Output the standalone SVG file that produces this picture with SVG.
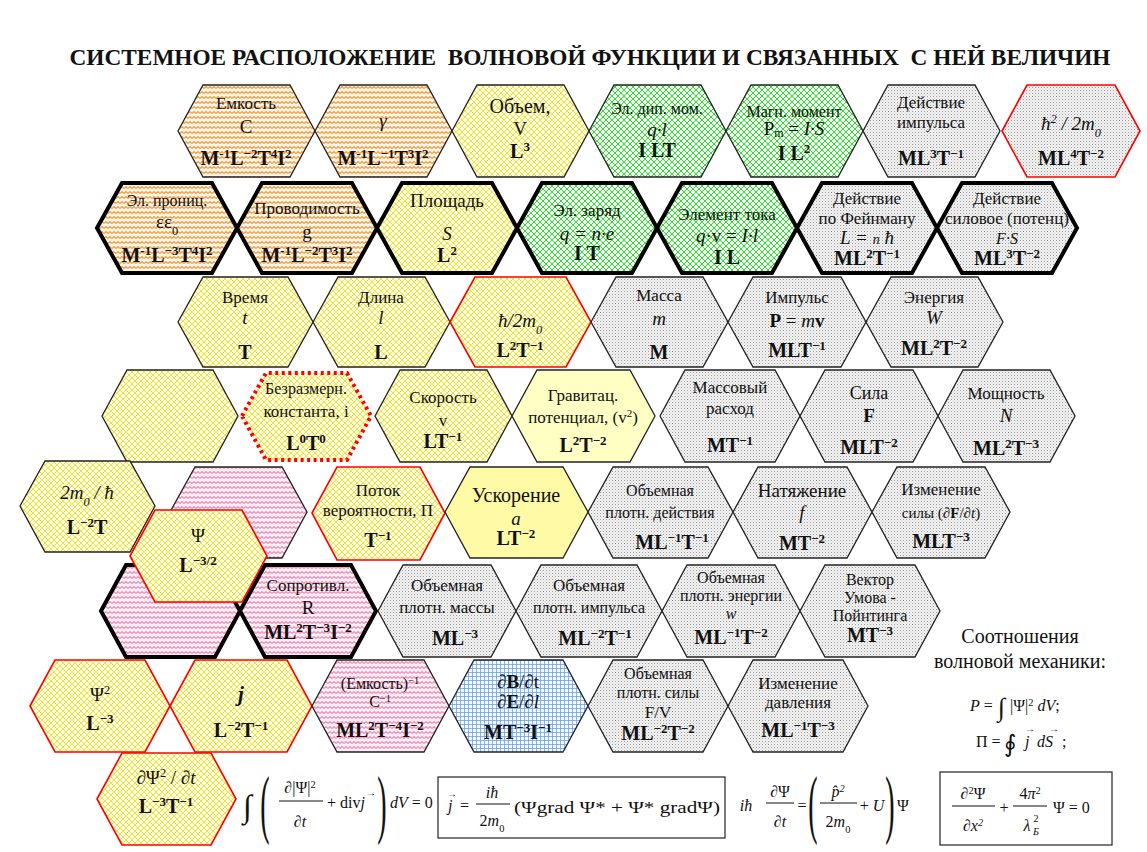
<svg xmlns="http://www.w3.org/2000/svg" width="1147" height="852" viewBox="0 0 1147 852">
<defs>
<pattern id="pOr" width="8" height="5" patternUnits="userSpaceOnUse"><rect width="8" height="5" fill="#fff5e8"/><path d="M0,3.5L2,1.5L4,3.5L6,1.5L8,3.5" fill="none" stroke="#f39a3a" stroke-width="1.1"/></pattern>
<pattern id="pPk" width="8" height="5" patternUnits="userSpaceOnUse"><rect width="8" height="5" fill="#fff0f6"/><path d="M0,3.5L2,1.5L4,3.5L6,1.5L8,3.5" fill="none" stroke="#f08cb8" stroke-width="1.1"/></pattern>
<pattern id="pYe" width="6" height="6" patternUnits="userSpaceOnUse"><rect width="6" height="6" fill="#ffffe8"/><path d="M-1,-1L7,7M7,-1L-1,7" stroke="#f2e23a" stroke-width="1"/></pattern>
<pattern id="pGn" width="6" height="6" patternUnits="userSpaceOnUse"><rect width="6" height="6" fill="#f2fff2"/><path d="M-1,-1L7,7M7,-1L-1,7" stroke="#38d838" stroke-width="1"/></pattern>
<pattern id="pGy" width="3" height="3" patternUnits="userSpaceOnUse"><rect width="3" height="3" fill="#f3f3f3"/><rect width="1" height="1" fill="#9a9a9a"/><rect x="1.5" y="1.5" width="1" height="1" fill="#c8c8c8"/></pattern>
<pattern id="pBl" width="4" height="4" patternUnits="userSpaceOnUse"><rect width="4" height="4" fill="#f4f8ff"/><path d="M0,0.5H4M0.5,0V4" stroke="#6ea2dc" stroke-width="0.8"/></pattern>
</defs>
<style>
.h{stroke:#222;stroke-width:1.3}
.k{stroke:#000;stroke-width:4}
.r{stroke:#f00;stroke-width:1.6}
.dt{stroke:#f00;stroke-width:4;stroke-dasharray:3 3.5}
.or{fill:url(#pOr)}.pk{fill:url(#pPk)}.ye{fill:url(#pYe)}.gn{fill:url(#pGn)}.gy{fill:url(#pGy)}.bl{fill:url(#pBl)}
text{font-family:'Liberation Serif',serif;text-anchor:middle;fill:#111}
.l{font-size:17px}
.s{font-size:16px}
.m{font-size:19px}
.i{font-style:italic}
.b{font-weight:bold}
.d{font-size:20px;font-weight:bold}
.u{font-size:65%;baseline-shift:super}
.sb{font-size:65%;baseline-shift:sub}
.st{text-anchor:start}
.f{font-size:16px}
.ar{font-size:10px}
.fl{stroke:#111;stroke-width:1}
</style>
<rect width="1147" height="852" fill="#fff"/>
<text x="590" y="65" font-size="23.3" font-weight="bold" style="white-space:pre">СИСТЕМНОЕ РАСПОЛОЖЕНИЕ  ВОЛНОВОЙ ФУНКЦИИ И СВЯЗАННЫХ  С НЕЙ ВЕЛИЧИН</text>

<!-- Row 1 -->
<g id="n-emkost"><polygon class="h or" points="178,131 203,85 290,85 315,131 290,177 203,177"/>
<text x="246" y="109" class="l">Емкость</text><text x="246" y="133" class="m">C</text>
<text x="246" y="165" class="d">M<tspan class="u">-1</tspan>L<tspan class="u">−2</tspan>T<tspan class="u">4</tspan>I<tspan class="u">2</tspan></text></g>
<g id="n-gamma"><polygon class="h or" points="315,131 340,85 427,85 452,131 427,177 340,177"/>
<text x="383" y="127" class="m i">γ</text>
<text x="383" y="165" class="d">M<tspan class="u">-1</tspan>L<tspan class="u">−1</tspan>T<tspan class="u">3</tspan>I<tspan class="u">2</tspan></text></g>
<g id="n-volume"><polygon class="h ye" points="452,131 477,85 564,85 589,131 564,177 477,177"/>
<text x="520" y="113" font-size="20">Объем,</text><text x="520" y="135" class="m">V</text>
<text x="520" y="158" class="d">L<tspan class="u">3</tspan></text></g>
<g id="n-dipole"><polygon class="h gn" points="589,131 614,85 701,85 726,131 701,177 614,177"/>
<text x="657" y="114" class="s">Эл. дип. мом.</text><text x="657" y="136" class="m i">q·l</text>
<text x="657" y="157" class="d">I LT</text></g>
<g id="n-magmoment"><polygon class="h gn" points="726,131 751,85 838,85 863,131 838,177 751,177"/>
<text x="794" y="117" class="s">Магн. момент</text>
<text x="794" y="135" class="m">P<tspan font-size="12" baseline-shift="-2">m</tspan> = <tspan class="i">I·S</tspan></text>
<text x="794" y="160" class="d">I L<tspan class="u">2</tspan></text></g>
<g id="n-action-impulse"><polygon class="h gy" points="863,131 888,85 975,85 1000,131 975,177 888,177"/>
<text x="931" y="108" class="l">Действие</text><text x="931" y="128" class="l">импульса</text>
<text x="931" y="165" class="d">ML<tspan class="u">3</tspan>T<tspan class="u">−1</tspan></text></g>
<g id="n-hbar2"><polygon class="r gy" points="1002,131 1027,85 1115,85 1140,131 1115,177 1027,177"/>
<text x="1071" y="130" class="m i">ħ<tspan class="u">2</tspan> / 2m<tspan class="sb">0</tspan></text>
<text x="1071" y="165" class="d">ML<tspan class="u">4</tspan>T<tspan class="u">−2</tspan></text></g>

<!-- Row 2 -->
<g id="n-permittivity"><polygon class="k or" points="97,228 122,183 212,183 237,228 212,273 122,273"/>
<text x="167" y="206" class="s">Эл. прониц.</text><text x="167" y="228" class="m">εε<tspan class="sb">0</tspan></text>
<text x="167" y="262" class="d">M<tspan class="u">-1</tspan>L<tspan class="u">−3</tspan>T<tspan class="u">4</tspan>I<tspan class="u">2</tspan></text></g>
<g id="n-conductance"><polygon class="k or" points="237,228 262,183 352,183 377,228 352,273 262,273"/>
<text x="307" y="214" class="l">Проводимость</text><text x="307" y="238" class="m">g</text>
<text x="307" y="262" class="d">M<tspan class="u">-1</tspan>L<tspan class="u">−2</tspan>T<tspan class="u">3</tspan>I<tspan class="u">2</tspan></text></g>
<g id="n-area"><polygon class="k ye" points="377,228 402,183 492,183 517,228 492,273 402,273"/>
<text x="447" y="207" font-size="19">Площадь</text><text x="447" y="240" class="m i">S</text>
<text x="447" y="262" class="d">L<tspan class="u">2</tspan></text></g>
<g id="n-charge"><polygon class="k gn" points="517,228 542,183 632,183 657,228 632,273 542,273"/>
<text x="587" y="216" class="l">Эл. заряд</text><text x="587" y="240" class="m i">q = n·e</text>
<text x="587" y="260" class="d">I T</text></g>
<g id="n-current-element"><polygon class="k gn" points="657,228 682,183 772,183 797,228 772,273 682,273"/>
<text x="727" y="220" class="l">Элемент тока</text><text x="727" y="242" class="m"><tspan class="i">q</tspan>·v = <tspan class="i">I·l</tspan></text>
<text x="727" y="264" class="d">I L</text></g>
<g id="n-action-feynman"><polygon class="k gy" points="797,228 822,183 912,183 937,228 912,273 822,273"/>
<text x="867" y="204" class="l">Действие</text><text x="867" y="224" class="l">по Фейнману</text>
<text x="867" y="244" class="m i">L = <tspan font-size="14">n</tspan> ħ</text>
<text x="867" y="265" class="d">ML<tspan class="u">2</tspan>T<tspan class="u">−1</tspan></text></g>
<g id="n-action-force"><polygon class="k gy" points="937,228 962,183 1052,183 1077,228 1052,273 962,273"/>
<text x="1007" y="204" class="l">Действие</text><text x="1007" y="224" class="l">силовое (потенц)</text>
<text x="1007" y="244" class="s i">F·S</text>
<text x="1007" y="265" class="d">ML<tspan class="u">3</tspan>T<tspan class="u">−2</tspan></text></g>

<!-- Row 3 -->
<g id="n-time"><polygon class="h ye" points="178,322 203,277 288,277 313,322 288,367 203,367"/>
<text x="245" y="303" class="l">Время</text><text x="245" y="324" class="m i">t</text>
<text x="245" y="359" class="d">T</text></g>
<g id="n-length"><polygon class="h ye" points="313,322 338,277 425,277 450,322 425,367 338,367"/>
<text x="381" y="303" class="l">Длина</text><text x="381" y="324" class="m i">l</text>
<text x="381" y="359" class="d">L</text></g>
<g id="n-hbar-2m"><polygon class="r ye" points="450,322 475,277 566,277 591,322 566,367 475,367"/>
<text x="520" y="327" class="m i">ħ/2m<tspan class="sb">0</tspan></text>
<text x="520" y="357" class="d">L<tspan class="u">2</tspan>T<tspan class="u">−1</tspan></text></g>
<g id="n-mass"><polygon class="h gy" points="591,322 616,277 703,277 728,322 703,367 616,367"/>
<text x="659" y="301" class="l">Масса</text><text x="659" y="325" class="m i">m</text>
<text x="659" y="359" class="d">M</text></g>
<g id="n-momentum"><polygon class="h gy" points="728,322 753,277 841,277 866,322 841,367 753,367"/>
<text x="797" y="303" class="l">Импульс</text>
<text x="797" y="327" class="m"><tspan class="b">P</tspan> = <tspan class="i">m</tspan><tspan class="b">v</tspan></text>
<text x="797" y="357" class="d">MLT<tspan class="u">−1</tspan></text></g>
<g id="n-energy"><polygon class="h gy" points="866,322 891,277 978,277 1003,322 978,367 891,367"/>
<text x="934" y="303" class="l">Энергия</text><text x="934" y="324" class="m i">W</text>
<text x="934" y="355" class="d">ML<tspan class="u">2</tspan>T<tspan class="u">−2</tspan></text></g>

<!-- Row 4 -->
<g id="n-empty-yellow"><polygon class="h ye" points="102,416 127,370 213,370 238,416 213,462 127,462"/></g>
<g id="n-dimensionless"><polygon class="dt ye" points="242,416 266,373 347,373 371,416 347,460 266,460"/>
<text x="306" y="394" class="s">Безразмерн.</text><text x="306" y="417" class="l">константа, i</text>
<text x="306" y="450" class="d">L<tspan class="u">0</tspan>T<tspan class="u">0</tspan></text></g>
<g id="n-velocity"><polygon class="h ye" points="375,416 400,370 487,370 512,416 487,462 400,462"/>
<text x="443" y="403" class="l">Скорость</text><text x="443" y="426" class="l">v</text>
<text x="443" y="448" class="d">LT<tspan class="u">−1</tspan></text></g>
<g id="n-gravpot"><polygon class="h" fill="#ffffc4" points="512,416 537,370 630,370 655,416 630,462 537,462"/>
<text x="583" y="401" class="l">Гравитац.</text><text x="583" y="423" class="l">потенциал, (v<tspan class="u">2</tspan>)</text>
<text x="583" y="452" class="d">L<tspan class="u">2</tspan>T<tspan class="u">−2</tspan></text></g>
<g id="n-massflow"><polygon class="h gy" points="660,416 685,370 775,370 800,416 775,462 685,462"/>
<text x="730" y="393" class="l">Массовый</text><text x="730" y="414" class="l">расход</text>
<text x="730" y="452" class="d">MT<tspan class="u">−1</tspan></text></g>
<g id="n-force"><polygon class="h gy" points="800,416 825,370 913,370 938,416 913,462 825,462"/>
<text x="869" y="399" font-size="18">Сила</text><text x="869" y="422" class="m b">F</text>
<text x="869" y="454" class="d">MLT<tspan class="u">−2</tspan></text></g>
<g id="n-power"><polygon class="h gy" points="938,416 963,370 1050,370 1075,416 1050,462 963,462"/>
<text x="1006" y="399" class="l">Мощность</text><text x="1006" y="422" class="m i">N</text>
<text x="1006" y="455" class="d">ML<tspan class="u">2</tspan>T<tspan class="u">−3</tspan></text></g>

<!-- Row 5 -->
<g id="n-2m-hbar"><polygon class="h ye" points="20,506 45,461 130,461 155,506 130,552 45,552"/>
<text x="87" y="499" class="m i">2m<tspan class="sb">0</tspan> / ħ</text>
<text x="87" y="534" class="d">L<tspan class="u">−2</tspan>T</text></g>
<g id="n-empty-pink"><polygon class="h pk" points="170,512 195,467 282,467 307,512 282,558 195,558"/></g>
<g id="n-flux"><polygon class="r ye" points="312,513 337,467 420,467 445,513 420,560 337,560"/>
<text x="378" y="496" class="l">Поток</text><text x="378" y="516" class="l">вероятности, П</text>
<text x="378" y="547" class="d">T<tspan class="u">−1</tspan></text></g>
<g id="n-acceleration"><polygon class="h" fill="#fffaa6" points="445,512 470,467 563,467 588,512 563,558 470,558"/>
<text x="516" y="502" font-size="20">Ускорение</text><text x="516" y="525" class="m i">a</text>
<text x="516" y="545" class="d">LT<tspan class="u">−2</tspan></text></g>
<g id="n-action-density"><polygon class="h gy" points="588,512 613,467 708,467 733,512 708,558 613,558"/>
<text x="660" y="496" class="s">Объемная</text><text x="660" y="518" class="s">плотн. действия</text>
<text x="672" y="549" class="d">ML<tspan class="u">−1</tspan>T<tspan class="u">−1</tspan></text></g>
<g id="n-tension"><polygon class="h gy" points="733,512 758,467 847,467 872,512 847,558 758,558"/>
<text x="802" y="497" font-size="19">Натяжение</text><text x="802" y="519" class="m i">f</text>
<text x="802" y="550" class="d">MT<tspan class="u">−2</tspan></text></g>
<g id="n-force-change"><polygon class="h gy" points="872,512 897,467 985,467 1010,512 985,558 897,558"/>
<text x="941" y="495" class="l">Изменение</text><text x="941" y="518" font-size="15">силы (<tspan class="i">∂</tspan><tspan class="b">F</tspan>/<tspan class="i">∂t</tspan>)</text>
<text x="941" y="548" class="d">MLT<tspan class="u">−3</tspan></text></g>

<!-- Row 6 -->
<g id="n-empty-pink-thick"><polygon class="k pk" points="101,611 126,565 215,565 240,611 215,657 126,657"/></g>
<g id="n-resistance"><polygon class="k pk" points="240,611 265,565 351,565 376,611 351,657 265,657"/>
<text x="308" y="591" class="l">Сопротивл.</text><text x="308" y="614" class="m">R</text>
<text x="308" y="639" class="d">ML<tspan class="u">2</tspan>T<tspan class="u">−3</tspan>I<tspan class="u">−2</tspan></text></g>
<g id="n-mass-density"><polygon class="h gy" points="378,611 403,565 491,565 516,611 491,657 403,657"/>
<text x="447" y="591" class="l">Объемная</text><text x="447" y="613" class="l">плотн. массы</text>
<text x="455" y="645" class="d">ML<tspan class="u">−3</tspan></text></g>
<g id="n-momentum-density"><polygon class="h gy" points="516,611 541,565 637,565 662,611 637,657 541,657"/>
<text x="589" y="591" class="l">Объемная</text><text x="589" y="613" class="s">плотн. импульса</text>
<text x="595" y="645" class="d">ML<tspan class="u">−2</tspan>T<tspan class="u">−1</tspan></text></g>
<g id="n-energy-density"><polygon class="h gy" points="662,611 687,565 775,565 800,611 775,657 687,657"/>
<text x="731" y="583" class="s">Объемная</text><text x="731" y="601" class="s">плотн. энергии</text>
<text x="731" y="619" class="s i">w</text>
<text x="731" y="644" class="d">ML<tspan class="u">−1</tspan>T<tspan class="u">−2</tspan></text></g>
<g id="n-umov"><polygon class="h gy" points="800,611 825,565 915,565 940,611 915,657 825,657"/>
<text x="870" y="585" class="s">Вектор</text><text x="870" y="603" class="s">Умова -</text><text x="870" y="621" class="s">Пойнтинга</text>
<text x="870" y="642" class="d">MT<tspan class="u">−3</tspan></text></g>

<!-- Row 7 -->
<g id="n-psi2"><polygon class="r ye" points="30,706 55,660 145,660 170,706 145,752 55,752"/>
<text x="100" y="701" class="m">Ψ<tspan class="u">2</tspan></text>
<text x="100" y="730" class="d">L<tspan class="u">−3</tspan></text></g>
<g id="n-j"><polygon class="r ye" points="170,706 195,660 287,660 312,706 287,752 195,752"/>
<text x="241" y="701" font-size="21" class="i b">j</text>
<text x="241" y="737" class="d">L<tspan class="u">−2</tspan>T<tspan class="u">−1</tspan></text></g>
<g id="n-inv-capacity"><polygon class="h pk" points="312,706 337,660 424,660 449,706 424,752 337,752"/>
<text x="380" y="689" class="s">(Емкость)<tspan class="u">−1</tspan></text><text x="380" y="707" class="s">C<tspan class="u">−1</tspan></text>
<text x="380" y="737" class="d">ML<tspan class="u">2</tspan>T<tspan class="u">−4</tspan>I<tspan class="u">−2</tspan></text></g>
<g id="n-dBdt"><polygon class="h bl" points="449,706 474,660 563,660 588,706 563,752 474,752"/>
<text x="518" y="688" class="m"><tspan class="i">∂</tspan><tspan class="b">B</tspan>/<tspan class="i">∂</tspan>t</text>
<text x="518" y="708" class="m"><tspan class="i">∂</tspan><tspan class="b">E</tspan>/<tspan class="i">∂l</tspan></text>
<text x="518" y="739" class="d">MT<tspan class="u">−3</tspan>I<tspan class="u">−1</tspan></text></g>
<g id="n-force-density"><polygon class="h gy" points="588,706 613,660 703,660 728,706 703,752 613,752"/>
<text x="658" y="679" class="s">Объемная</text><text x="658" y="698" class="s">плотн. силы</text>
<text x="658" y="718" class="l">F/V</text>
<text x="658" y="740" class="d">ML<tspan class="u">−2</tspan>T<tspan class="u">−2</tspan></text></g>
<g id="n-pressure-change"><polygon class="h gy" points="728,706 753,660 843,660 868,706 843,752 753,752"/>
<text x="798" y="689" class="l">Изменение</text><text x="798" y="708" class="l">давления</text>
<text x="798" y="737" class="d">ML<tspan class="u">−1</tspan>T<tspan class="u">−3</tspan></text></g>

<!-- Row 8 -->
<g id="n-dpsi2dt"><polygon class="r ye" points="97,799 122,753 211,753 236,799 211,845 122,845"/>
<text x="166" y="784" class="m"><tspan class="i">∂</tspan>Ψ<tspan class="u">2</tspan> / <tspan class="i">∂t</tspan></text>
<text x="166" y="813" class="d">L<tspan class="u">−3</tspan>T<tspan class="u">−1</tspan></text></g>

<!-- Psi on top -->
<g id="n-psi"><polygon class="r ye" points="130,556 155,510 242,510 267,556 242,602 155,602"/>
<text x="198" y="542" class="m">Ψ</text>
<text x="198" y="572" class="d">L<tspan class="u">−3/2</tspan></text></g>

<g id="connectors"/>

<!-- Right side relations -->
<g id="relations">
<text x="1020" y="643" font-size="20">Соотношения</text>
<text x="1020" y="668" font-size="20">волновой механики:</text>
<text x="970" y="711" class="st f"><tspan class="i">P</tspan> =</text>
<text x="998" y="716" class="st" font-size="26">∫</text>
<text x="1010" y="711" class="st f">|Ψ|<tspan class="u">2</tspan> <tspan class="i">dV</tspan>;</text>
<text x="976" y="747" class="st f">П =</text>
<text x="1004" y="752" class="st" font-size="24">∮</text>
<text x="1025" y="747" class="st f i">j</text><text x="1030" y="732" class="ar">→</text>
<text x="1037" y="747" class="st f i">dS</text><text x="1054" y="732" class="ar">→</text>
<text x="1062" y="747" class="st f">;</text>
</g>

<!-- Bottom formulas -->
<g id="formula-continuity">
<text x="243" y="817" class="st" font-size="32">∫</text>
<text transform="translate(265,829) scale(0.5,1.35)" font-size="56">(</text>
<text x="300" y="793" class="f"><tspan class="i">∂</tspan>|Ψ|<tspan class="u">2</tspan></text>
<line class="fl" x1="279" y1="801" x2="323" y2="801"/>
<text x="300" y="827" class="f i">∂t</text>
<text x="327" y="808" class="st f">+ div<tspan class="i">j</tspan></text>
<text x="371" y="796" class="ar">→</text>
<text transform="translate(382,829) scale(0.5,1.35)" font-size="56">)</text>
<text x="390" y="808" class="st f"><tspan class="i">dV</tspan> = 0</text>
</g>
<g id="formula-current">
<rect x="438" y="777" width="287" height="61" fill="none" stroke="#222" stroke-width="1.2"/>
<text x="448" y="811" class="st f i">j</text>
<text x="452" y="797" class="ar">→</text>
<text x="460" y="811" class="st f">=</text>
<text x="492" y="798" class="f i">iħ</text>
<line class="fl" x1="476" y1="804" x2="510" y2="804"/>
<text x="492" y="826" class="f">2<tspan class="i">m</tspan><tspan class="sb">0</tspan></text>
<text x="514" y="813" class="st" font-size="17" textLength="206" lengthAdjust="spacingAndGlyphs">(Ψgrad Ψ* + Ψ* gradΨ)</text>
</g>
<g id="formula-schrodinger">
<text x="746" y="811" class="f i">iħ</text>
<text x="780" y="797" class="f"><tspan class="i">∂</tspan>Ψ</text>
<line class="fl" x1="766" y1="803" x2="794" y2="803"/>
<text x="780" y="827" class="f i">∂t</text>
<text x="802" y="811" class="f">=</text>
<text transform="translate(813,829) scale(0.5,1.35)" font-size="56">(</text>
<text x="838" y="797" class="f i">p̂<tspan class="u">2</tspan></text>
<line class="fl" x1="820" y1="803" x2="857" y2="803"/>
<text x="838" y="827" class="f">2<tspan class="i">m</tspan><tspan class="sb">0</tspan></text>
<text x="872" y="811" class="f">+ <tspan class="i">U</tspan></text>
<text transform="translate(890,829) scale(0.5,1.35)" font-size="56">)</text>
<text x="903" y="811" class="f">Ψ</text>
</g>
<g id="formula-helmholtz">
<rect x="940" y="772" width="172" height="73" fill="none" stroke="#222" stroke-width="1.2"/>
<text x="973" y="799" class="f"><tspan class="i">∂</tspan><tspan class="u">2</tspan>Ψ</text>
<line class="fl" x1="952" y1="806" x2="995" y2="806"/>
<text x="973" y="831" class="f i">∂x<tspan class="u">2</tspan></text>
<text x="1004" y="813" class="f">+</text>
<text x="1030" y="799" class="f">4<tspan class="i">π</tspan><tspan class="u">2</tspan></text>
<line class="fl" x1="1013" y1="806" x2="1047" y2="806"/>
<text x="1027" y="831" class="f i">λ</text>
<text x="1036" y="835" font-size="10" class="i">Б</text>
<text x="1036" y="822" font-size="10">2</text>
<text x="1053" y="813" class="st f">Ψ = 0</text>
</g>
</svg>
